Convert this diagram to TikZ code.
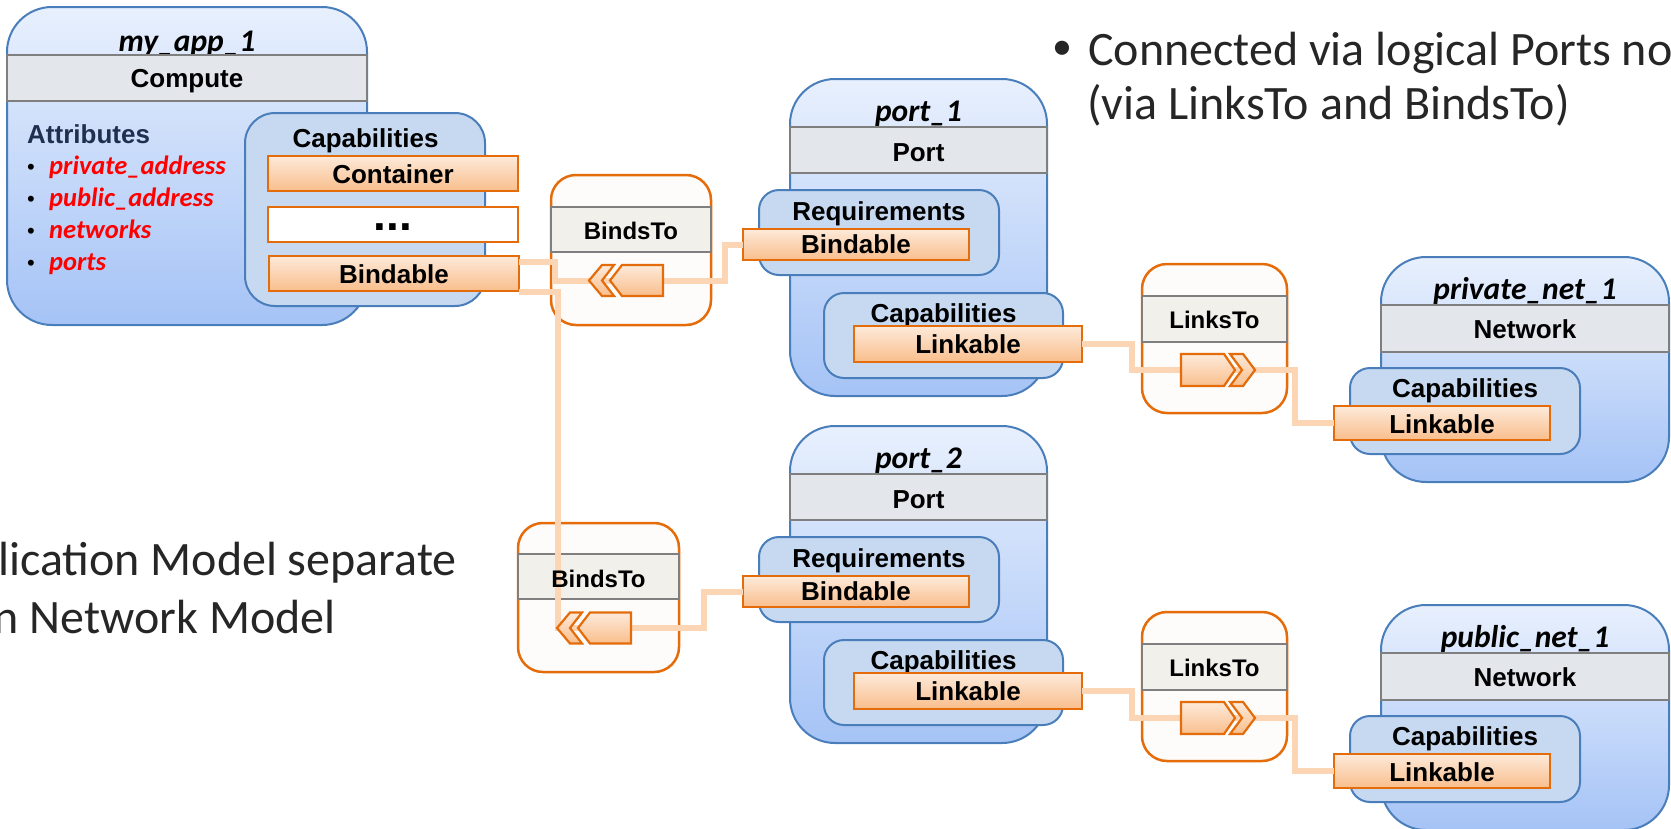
\documentclass[tikz,border=0pt]{standalone}
\usepackage{fontspec}
\setmainfont{Liberation Sans}
\newfontfamily\calfont{Carlito}
\usetikzlibrary{calc}

\definecolor{boxtop}{HTML}{E8F0FD}
\definecolor{boxbot}{HTML}{A5C3F6}
\definecolor{boxline}{HTML}{4A7EBB}
\definecolor{bandfill}{HTML}{E3E7EC}
\definecolor{bandline}{HTML}{7F7F7F}
\definecolor{capfill}{HTML}{C6D9F1}
\definecolor{bartop}{HTML}{FDEADA}
\definecolor{barbot}{HTML}{F9BE8C}
\definecolor{barline}{HTML}{E46C0A}
\definecolor{wirecol}{HTML}{FCD5B5}
\definecolor{relfill}{HTML}{FDFCFA}
\definecolor{relband}{HTML}{F2F0EB}
\definecolor{ink}{HTML}{262626}
\definecolor{attrink}{HTML}{1F2F4F}

\tikzset{
  outerbox/.style={draw=boxline, line width=2pt, rounded corners=45pt,
    top color=boxtop, bottom color=boxbot},
  headband/.style={draw=bandline, line width=2.5pt, fill=bandfill},
  capbox/.style={draw=boxline, line width=2pt, fill=capfill, rounded corners=#1},
  capbox/.default=20pt,
  bar/.style={draw=barline, line width=2.5pt, top color=bartop, bottom color=barbot},
  blankbar/.style={draw=barline, line width=2.5pt, fill=white},
  relbox/.style={draw=barline, line width=2.5pt, fill=relfill, rounded corners=25pt},
  relbandst/.style={draw=bandline, line width=2.5pt, fill=relband},
  wire/.style={draw=wirecol, line width=6pt},
  chev/.style={draw=barline, line width=2.2pt, top color=bartop, bottom color=barbot},
  lbl/.style={font=\fontsize{26}{30}\selectfont\bfseries, anchor=base, inner sep=0pt},
  rellbl/.style={font=\fontsize{24}{28}\selectfont\bfseries, anchor=base, inner sep=0pt},
  ttl/.style={font=\calfont\fontsize{31.5}{36}\selectfont\bfseries\itshape, anchor=base, inner sep=0pt},
  attr/.style={font=\calfont\fontsize{26.5}{30}\selectfont\bfseries\itshape, text=red,
    anchor=base west, inner sep=0pt},
  dotlbl/.style={font=\fontsize{22}{26}\selectfont, anchor=base, inner sep=0pt},
  note/.style={font=\calfont\fontsize{48}{54}\selectfont, text=ink, anchor=base west, inner sep=0pt},
  lchev/.pic={
    \path[chev] (0,-15.5) -- (-41,-15.5) -- (-53,0) -- (-41,15.5) -- (0,15.5) -- cycle;
    \path[chev] (-49,-15.5) -- (-61,-15.5) -- (-74,0) -- (-61,15.5) -- (-49,15.5) -- (-61,0) -- cycle;
  },
  rchev/.pic={
    \path[chev] (0,-16) -- (43,-16) -- (54,0) -- (43,16) -- (0,16) -- cycle;
    \path[chev] (49,-16) -- (62,-16) -- (74,0) -- (62,16) -- (49,16) -- (61,0) -- cycle;
  }
}

% rectangle node from its top-left and bottom-right corners
\newcommand\mkbox[6]{%
  \node[#6, anchor=north west, inner sep=0pt, outer sep=0pt,
        minimum width={((#4)-(#2))*1pt}, minimum height={((#5)-(#3))*1pt}] (#1) at (#2,#3) {};}

\begin{document}
\begin{tikzpicture}[x=1pt,y=-1pt]
\useasboundingbox (0,0) rectangle (1671,828);

% ---------------- compute node my_app_1 ----------------
\mkbox{app}{7}{7}{367}{325}{outerbox}
\node[ttl] (apptitle) at (187,51) {my\_app\_1};
\mkbox{appband}{7}{55}{367}{101}{headband}
\node[lbl] (apptype) at (187,87) {Compute};
\node[lbl, anchor=base west, text=attrink] (attrs) at (27,143) {Attributes};
\foreach \yy/\nm/\tx in {174/aa/private\_address, 206/ab/public\_address, 238/ac/networks, 270/ad/ports} {
  \node[dotlbl] (\nm b) at (31,\yy) {\textbullet};
  \node[attr] (\nm) at (49,\yy) {\tx};
}
\mkbox{appcap}{245}{113}{485}{306}{capbox=30pt}
\node[lbl] (appcaplbl) at (365.5,147) {Capabilities};
\mkbox{appcont}{268}{156}{518}{191}{bar}
\node[lbl] (appcontlbl) at (393,183) {Container};
\mkbox{appmore}{268}{207}{518}{242}{blankbar}
\node[lbl, font=\fontsize{46}{50}\selectfont\bfseries] (appmorelbl) at (393,230) {...};
\mkbox{appbind}{269}{256}{519}{291}{bar}
\node[lbl] (appbindlbl) at (394,283) {Bindable};

% ---------------- BindsTo relationships ----------------
\mkbox{bindA}{551}{175}{711}{325}{relbox}
\mkbox{bindAband}{551}{207}{711}{252}{relbandst}
\mkbox{bindB}{518}{523}{679}{672}{relbox}
\mkbox{bindBband}{518}{554}{679}{599}{relbandst}

% ---------------- ports ----------------
\foreach \dy/\n/\t in {0/A/{port\_1}, 347/B/{port\_2}} {
  \mkbox{port\n}{790}{79+\dy}{1047}{396+\dy}{outerbox}
  \node[ttl] (port\n title) at (918.5,121+\dy) {\t};
  \mkbox{port\n band}{790}{127+\dy}{1047}{173+\dy}{headband}
  \node[lbl] (port\n type) at (918.5,161+\dy) {Port};
  \mkbox{req\n}{759}{190+\dy}{999}{275+\dy}{capbox}
  \node[lbl] (req\n lbl) at (879,220+\dy) {Requirements};
  \mkbox{reqbind\n}{743}{229+\dy}{969}{260+\dy}{bar}
  \node[lbl] (reqbind\n lbl) at (856,253+\dy) {Bindable};
  \mkbox{cap\n}{824}{293+\dy}{1063}{378+\dy}{capbox}
  \node[lbl] (cap\n lbl) at (943.5,322+\dy) {Capabilities};
  \mkbox{link\n}{854}{326+\dy}{1082}{362+\dy}{bar}
  \node[lbl] (link\n lbl) at (968,353+\dy) {Linkable};
}

% ---------------- LinksTo relationships ----------------
\foreach \dy/\n in {0/A, 348/B} {
  \mkbox{lnk\n}{1142}{264+\dy}{1287}{413+\dy}{relbox}
  \mkbox{lnk\n band}{1142}{296+\dy}{1287}{342+\dy}{relbandst}
}

% ---------------- networks ----------------
\foreach \dy/\n/\t in {0/A/{private\_net\_1}, 348/B/{public\_net\_1}} {
  \mkbox{net\n}{1381}{257+\dy}{1669}{482+\dy}{outerbox}
  \node[ttl] (net\n title) at (1525,299+\dy) {\t};
  \mkbox{net\n band}{1381}{305+\dy}{1669}{352+\dy}{headband}
  \node[lbl] (net\n type) at (1525,338+\dy) {Network};
  \mkbox{netcap\n}{1350}{368+\dy}{1580}{454+\dy}{capbox}
  \node[lbl] (netcap\n lbl) at (1465,397+\dy) {Capabilities};
  \mkbox{netlink\n}{1334}{406+\dy}{1550}{440+\dy}{bar}
  \node[lbl] (netlink\n lbl) at (1442,433+\dy) {Linkable};
}

% ---------------- connectors ----------------
\coordinate (chevA) at (626,280.5);
\coordinate (chevB) at (594,628);
\coordinate (chevC) at (1218,370);
\coordinate (chevD) at (1218,718);

\draw[wire] ($(appbind.north east)+(0,6)$) -- ++(36,0) |- (chevA)
  -| ($(reqbindA.west)+(-18,0)$) -- (reqbindA.west);
\draw[wire] ($(appbind.south east)+(0,0.5)$) -- ++(39,0) |- (chevB)
  -| ($(reqbindB.west)+(-39,0)$) -- (reqbindB.west);
\draw[wire] (linkA.east) -- ++(50,0) |- (chevC)
  -| ($(netlinkA.west)+(-39,0)$) -- (netlinkA.west);
\draw[wire] (linkB.east) -- ++(50,0) |- (chevD)
  -| ($(netlinkB.west)+(-39,0)$) -- (netlinkB.west);

% relationship symbols and labels
\pic at (663,280.5) {lchev};
\pic at (631,628) {lchev};
\pic at (1181,370) {rchev};
\pic at (1181,718) {rchev};
\node[rellbl] (bindAlbl) at (631,239) {BindsTo};
\node[rellbl] (bindBlbl) at (598.5,587) {BindsTo};
\node[rellbl] (lnkAlbl) at (1214.5,328) {LinksTo};
\node[rellbl] (lnkBlbl) at (1214.5,676) {LinksTo};

% ---------------- slide text ----------------
\node[font=\calfont\fontsize{40}{44}\selectfont, text=ink, anchor=center, inner sep=0pt] (bul) at (1062,50) {•};
\node[note] (noteA) at (1088,65) {Connected via logical Ports no};
\node[note] (noteB) at (1087,119) {(via LinksTo and BindsTo)};
\node[note] (noteC) at (-2,575) {lication Model separate};
\node[note] (noteD) at (-6.5,633) {n Network Model};
\end{tikzpicture}
\end{document}
